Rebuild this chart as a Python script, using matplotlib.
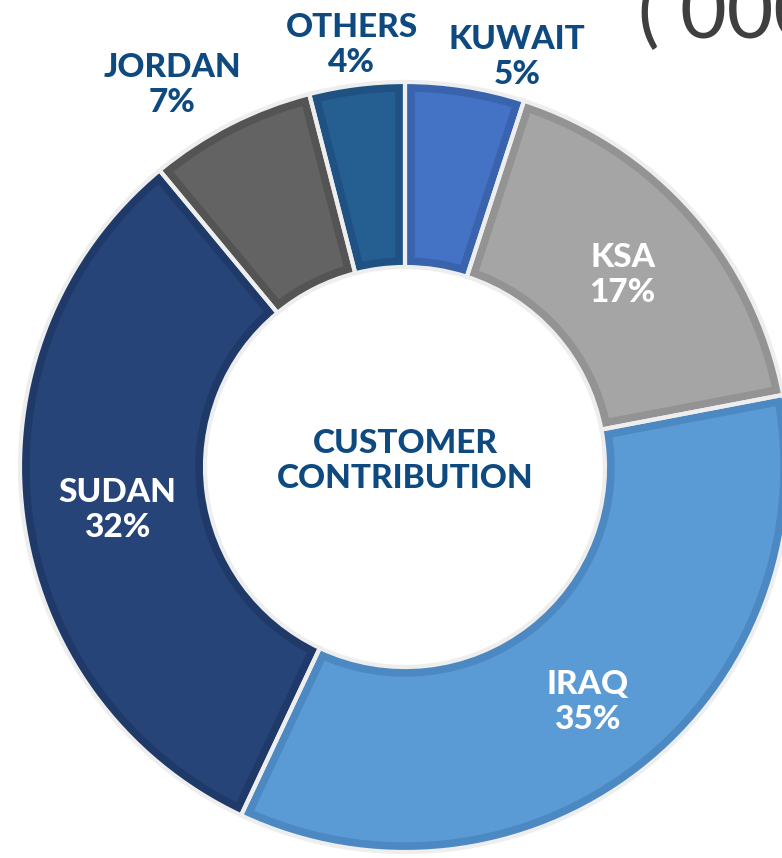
import numpy as np
import matplotlib.pyplot as plt

# customer contribution shares, clockwise from 12 o'clock
countries = ['KUWAIT', 'KSA', 'IRAQ', 'SUDAN', 'JORDAN', 'OTHERS']
shares = [5, 17, 35, 32, 7, 4]
fills = ['#4472C4', '#A5A5A5', '#5B9BD5', '#264478', '#636363', '#255E91']
rims = ['#3A63AE', '#939393', '#4C89C2', '#1F3A68', '#545454', '#1F5183']
inside = [False, True, True, True, False, False]
# outside labels sit off the wedge middle a little
label_r = [425, 290, 298, 291, 447, 425]
label_shift = [-6.3, 0, 0, 1.3, 4.4, 0]

W, H = 782, 858
cx, cy = 405, H - 467
R, r_in = 385, 200

plt.rcParams['font.family'] = ['Lato', 'DejaVu Sans']

fig = plt.figure(figsize=(W / 100, H / 100), dpi=100)
fig.patch.set_facecolor('white')
ax = fig.add_axes([0, 0, 1, 1])

wedges, _ = ax.pie(shares, colors=fills, startangle=90, counterclock=False,
                   radius=R, center=(cx, cy),
                   wedgeprops=dict(width=R - r_in, linewidth=0))
for w, rc in zip(wedges, rims):
    # darker rim drawn only on the inside of each wedge
    w.set_edgecolor(rc)
    w.set_linewidth(14)
    w.set_clip_path(w)
    w.set_clip_on(True)

# light gaps between the wedges
ax.pie(shares, colors=['none'] * len(shares), startangle=90, counterclock=False,
       radius=R, center=(cx, cy),
       wedgeprops=dict(width=R - r_in, edgecolor='#EEEEEE', linewidth=3,
                       facecolor='none'))

for w, name, s, ins, rr, sh in zip(wedges, countries, shares, inside,
                                   label_r, label_shift):
    mid = np.deg2rad((w.theta1 + w.theta2) / 2 + sh)
    x = cx + rr * np.cos(mid)
    y = cy + rr * np.sin(mid)
    ax.text(x, y, f'{name}\n{s}%', ha='center', va='center',
            fontsize=24, fontweight='black', linespacing=1.25,
            color='white' if ins else '#0E4A80')

ax.text(cx, cy + 6, 'CUSTOMER\nCONTRIBUTION', ha='center', va='center',
        fontsize=24, fontweight='black', linespacing=1.22, color='#0E4A80')

# cut-off heading at the top right of the slide
ax.text(638, H - 38, '( 000', ha='left', va='baseline', fontsize=58,
        color='#3F3F3F')

ax.set_xlim(0, W)
ax.set_ylim(0, H)
ax.set_aspect('equal')
ax.axis('off')

fig.savefig('out.png', dpi=100, facecolor=fig.get_facecolor())
